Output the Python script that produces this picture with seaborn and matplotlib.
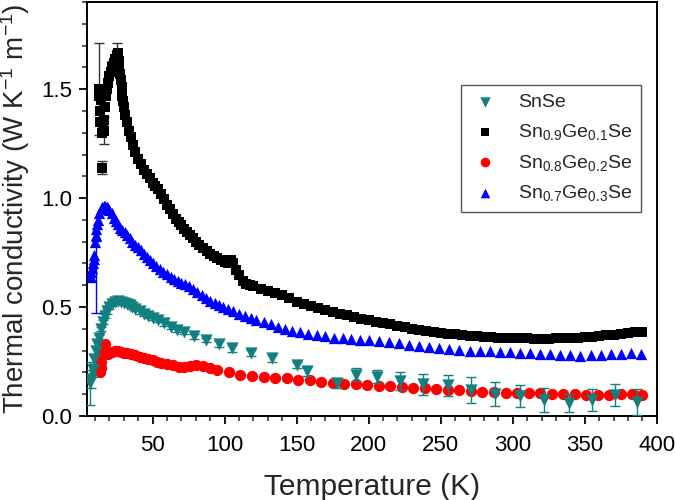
import numpy as np
import pandas as pd
import seaborn as sns
import matplotlib.pyplot as plt
from matplotlib.ticker import MultipleLocator

# ---- data ----
# SnSe
snse_T = [6.5, 7.5, 8.5, 9.5, 10.5, 11.5, 12.5, 14, 15.5, 17, 18.5, 20, 22, 24, 26, 28,
          30, 32, 34, 36, 38, 41, 44, 47, 50, 54, 58, 63, 67, 72, 79, 87, 96, 105, 118,
          133, 150, 157, 178, 191, 206, 222, 238, 255, 271, 288, 305, 322, 339, 355,
          371, 386]
snse_k = [0.15, 0.17, 0.21, 0.26, 0.30, 0.33, 0.36, 0.40, 0.43, 0.46, 0.48, 0.50, 0.515,
          0.525, 0.53, 0.525, 0.52, 0.515, 0.51, 0.50, 0.49, 0.48, 0.47, 0.46, 0.45, 0.44,
          0.425, 0.41, 0.395, 0.385, 0.365, 0.35, 0.33, 0.31, 0.29, 0.265, 0.235, 0.205,
          0.15, 0.19, 0.18, 0.16, 0.145, 0.14, 0.12, 0.10, 0.09, 0.075, 0.06, 0.075,
          0.095, 0.065]
snse_err = [0.10, 0.04, 0.03, 0.02, 0.02, 0.02, 0.01, 0.01, 0.01, 0.01, 0.01, 0.01, 0.01,
            0.01, 0.01, 0.01, 0.01, 0.01, 0.01, 0.01, 0.01, 0.01, 0.01, 0.01, 0.01, 0.01,
            0.01, 0.01, 0.01, 0.01, 0.01, 0.01, 0.015, 0.015, 0.015, 0.015, 0.015, 0.02,
            0.02, 0.03, 0.03, 0.04, 0.05, 0.05, 0.06, 0.055, 0.05, 0.055, 0.04, 0.05,
            0.05, 0.06]

# Sn0.9Ge0.1Se
g1_T = [12.5, 13, 13.2, 13.5, 14, 14.7, 15, 15.5, 16, 16.5, 17, 17.5, 18, 19, 20, 21, 22,
        23, 24, 25, 26, 26.5, 27, 27.5, 28, 28.5, 29, 29.5, 30, 31, 32, 33.5, 35, 36.5, 38,
        40, 42, 44, 46, 48, 50, 52, 54, 56, 58, 60, 62, 64, 66, 68, 70, 72, 74, 76, 78, 80,
        82.5, 85, 87.5, 90, 92.5, 95, 97.5, 100, 102.5, 104.5, 106, 108, 110, 112.5, 115,
        117.5, 120, 125, 130, 135, 140, 145, 150, 155, 160, 165, 170, 175, 180, 185, 190,
        195, 200, 205, 210, 215, 220, 225, 230, 235, 240, 245, 250, 255, 260, 265, 270,
        275, 280, 285, 290, 295, 300, 305, 310, 315, 320, 325, 330, 335, 340, 345, 350,
        355, 360, 365, 370, 375, 380, 385, 390]
g1_k = [1.47, 1.50, 1.40, 1.35, 1.45, 1.14, 1.30, 1.33, 1.31, 1.36, 1.42, 1.47, 1.50, 1.53,
        1.56, 1.58, 1.60, 1.62, 1.64, 1.655, 1.665, 1.63, 1.60, 1.57, 1.54, 1.51, 1.47,
        1.445, 1.42, 1.38, 1.35, 1.31, 1.28, 1.245, 1.21, 1.18, 1.155, 1.13, 1.11, 1.09,
        1.07, 1.055, 1.04, 1.02, 0.995, 0.97, 0.95, 0.925, 0.905, 0.89, 0.875, 0.86, 0.845,
        0.83, 0.815, 0.80, 0.785, 0.77, 0.755, 0.745, 0.735, 0.725, 0.715, 0.705, 0.70,
        0.715, 0.70, 0.67, 0.645, 0.62, 0.605, 0.60, 0.595, 0.585, 0.575, 0.565, 0.555,
        0.54, 0.525, 0.515, 0.505, 0.495, 0.485, 0.477, 0.47, 0.462, 0.455, 0.447, 0.44,
        0.433, 0.426, 0.42, 0.413, 0.407, 0.401, 0.395, 0.39, 0.386, 0.382, 0.378, 0.375,
        0.372, 0.369, 0.367, 0.364, 0.362, 0.36, 0.359, 0.358, 0.357, 0.356, 0.355, 0.355,
        0.355, 0.356, 0.357, 0.358, 0.36, 0.362, 0.364, 0.367, 0.37, 0.374, 0.378, 0.382,
        0.384, 0.386]
g1_err_T = [13, 14.7, 16.5, 22, 25.5]
g1_err_k = [1.50, 1.14, 1.31, 1.60, 1.66]
g1_err = [0.21, 0.03, 0.06, 0.03, 0.05]

# Sn0.8Ge0.2Se
g2_T = [13.5, 14, 14.5, 15, 16, 17, 18, 19, 20, 22, 24, 26, 28, 30, 32, 35, 38, 41, 44, 47,
        50, 53, 56, 60, 64, 68, 72, 76, 80, 85, 90, 95, 103, 111, 119, 127, 135, 143, 151,
        159, 167, 175, 183, 191, 199, 207, 215, 223, 231, 239, 247, 255, 263, 271, 279,
        287, 295, 303, 311, 319, 327, 335, 343, 351, 359, 367, 375, 383, 390]
g2_k = [0.20, 0.22, 0.25, 0.28, 0.31, 0.33, 0.29, 0.285, 0.29, 0.295, 0.30, 0.30, 0.295,
        0.29, 0.287, 0.283, 0.278, 0.272, 0.266, 0.26, 0.255, 0.25, 0.245, 0.238, 0.232,
        0.227, 0.224, 0.23, 0.233, 0.228, 0.22, 0.213, 0.203, 0.19, 0.183, 0.179, 0.176,
        0.173, 0.167, 0.163, 0.158, 0.153, 0.149, 0.146, 0.142, 0.139, 0.136, 0.133, 0.13,
        0.128, 0.125, 0.121, 0.118, 0.115, 0.112, 0.109, 0.107, 0.106, 0.105, 0.104, 0.102,
        0.10, 0.099, 0.097, 0.096, 0.098, 0.10, 0.099, 0.098]

# Sn0.7Ge0.3Se
g3_T = [7, 7.5, 8, 8.5, 9, 9.5, 10, 10.5, 11, 11.5, 12, 13, 14, 15, 16, 17, 18, 19, 20,
        21.5, 23, 24.5, 26, 27.5, 29, 30.5, 32, 34, 36, 38, 40, 42, 44, 46, 48, 50, 52.5,
        55, 57.5, 60, 62.5, 65, 67.5, 70, 72.5, 75, 78, 81, 84, 87, 90, 93, 96, 99, 102,
        106, 110, 114, 118, 122, 127, 132, 137, 142, 147, 152, 158, 164, 170, 176, 182,
        188, 194, 200, 207, 214, 221, 228, 235, 242, 249, 256, 263, 270, 277, 284, 291,
        298, 305, 312, 319, 326, 333, 340, 347, 354, 361, 368, 375, 382, 389]
g3_k = [0.64, 0.66, 0.68, 0.70, 0.72, 0.74, 0.80, 0.83, 0.86, 0.88, 0.90, 0.93, 0.95, 0.96,
        0.965, 0.965, 0.96, 0.955, 0.945, 0.93, 0.91, 0.895, 0.88, 0.865, 0.855, 0.845,
        0.83, 0.815, 0.80, 0.785, 0.774, 0.76, 0.745, 0.73, 0.715, 0.70, 0.69, 0.675, 0.66,
        0.65, 0.64, 0.63, 0.62, 0.61, 0.605, 0.595, 0.585, 0.57, 0.555, 0.54, 0.53, 0.52,
        0.51, 0.50, 0.49, 0.48, 0.47, 0.46, 0.45, 0.44, 0.43, 0.42, 0.41, 0.40, 0.39,
        0.385, 0.377, 0.37, 0.365, 0.36, 0.357, 0.354, 0.351, 0.348, 0.344, 0.339, 0.333,
        0.328, 0.323, 0.318, 0.313, 0.308, 0.303, 0.30, 0.298, 0.30, 0.294, 0.292, 0.29,
        0.288, 0.286, 0.283, 0.281, 0.279, 0.276, 0.278, 0.28, 0.284, 0.286, 0.287, 0.285]
g3_small_err = 0.012
g3_err_T = [11]
g3_err_k = [0.64]
g3_err = [0.165]

labels = ['SnSe',
          r'Sn$_{\mathregular{0.9}}$Ge$_{\mathregular{0.1}}$Se',
          r'Sn$_{\mathregular{0.8}}$Ge$_{\mathregular{0.2}}$Se',
          r'Sn$_{\mathregular{0.7}}$Ge$_{\mathregular{0.3}}$Se']
colors = ['#138080', 'black', '#ff0000', '#0000ff']

sns.set_style("ticks")
plt.rcParams['font.family'] = ['Liberation Sans', 'DejaVu Sans']
plt.rcParams['mathtext.fontset'] = 'custom'
plt.rcParams['mathtext.rm'] = 'Liberation Sans'
plt.rcParams['mathtext.it'] = 'Liberation Sans'
plt.rcParams['mathtext.default'] = 'regular'

fig = plt.figure(figsize=(6.75, 5), dpi=100)
ax = fig.add_axes([0.129, 0.168, 0.844, 0.828])

# red first, so that SnSe sits on top of it
df2 = pd.DataFrame({'T': g2_T, 'k': g2_k})
sns.scatterplot(data=df2, x='T', y='k', ax=ax, marker='o', s=66, color=colors[2],
                linewidth=0, label=labels[2], zorder=3)

ax.errorbar(snse_T, snse_k, yerr=snse_err, fmt='none', ecolor=colors[0],
            elinewidth=1, capsize=3.5, capthick=1, zorder=4)
df0 = pd.DataFrame({'T': snse_T, 'k': snse_k})
sns.scatterplot(data=df0, x='T', y='k', ax=ax, marker='v', s=78, color=colors[0],
                linewidth=0, label=labels[0], zorder=5)

ax.errorbar(g3_T, g3_k, yerr=g3_small_err, fmt='none', ecolor=colors[3],
            elinewidth=0.8, capsize=0, zorder=5)
ax.errorbar(g3_err_T, g3_err_k, yerr=g3_err, fmt='none', ecolor=colors[3],
            elinewidth=1, capsize=3.5, capthick=1, zorder=5)
df3 = pd.DataFrame({'T': g3_T, 'k': g3_k})
sns.scatterplot(data=df3, x='T', y='k', ax=ax, marker='^', s=66, color=colors[3],
                linewidth=0, label=labels[3], zorder=6)

ax.errorbar(g1_err_T, g1_err_k, yerr=g1_err, fmt='none', ecolor='#333333',
            elinewidth=1, capsize=3.5, capthick=1, zorder=6)
df1 = pd.DataFrame({'T': g1_T, 'k': g1_k})
sns.scatterplot(data=df1, x='T', y='k', ax=ax, marker='s', s=56, color=colors[1],
                linewidth=0, label=labels[1], zorder=7)

ax.set_xlim(4.5, 400)
ax.set_ylim(0, 1.9)
ax.xaxis.set_major_locator(MultipleLocator(50))
ax.xaxis.set_minor_locator(MultipleLocator(10))
ax.yaxis.set_major_locator(MultipleLocator(0.5))
ax.yaxis.set_minor_locator(MultipleLocator(0.1))
ax.set_xticks([50, 100, 150, 200, 250, 300, 350, 400])
ax.tick_params(which='major', direction='out', length=6, width=1.3, labelsize=16,
               colors='black')
ax.tick_params(axis='x', which='major', pad=8)
ax.tick_params(axis='y', which='major', pad=5)
ax.tick_params(which='minor', direction='out', length=3.5, width=1.1)
for sp in ax.spines.values():
    sp.set_linewidth(1.4)
    sp.set_color('black')

ax.set_xlabel('Temperature (K)', fontsize=21.5, labelpad=12)
ax.set_ylabel(r'Thermal conductivity (W K$^{-1}$ m$^{-1}$)', fontsize=20, labelpad=6)

h, l = ax.get_legend_handles_labels()
order = [l.index(lab) for lab in labels]
leg = ax.legend([h[i] for i in order], [l[i] for i in order],
                loc='upper left', bbox_to_anchor=(0.6555, 0.80), borderaxespad=0,
                fontsize=14, frameon=True, fancybox=False, framealpha=1,
                edgecolor='#555555', handletextpad=0.9, labelspacing=0.55,
                borderpad=0.45, handlelength=1.6, markerscale=0.85)
leg.get_frame().set_linewidth(1.0)

fig.savefig('out.png', dpi=100)
